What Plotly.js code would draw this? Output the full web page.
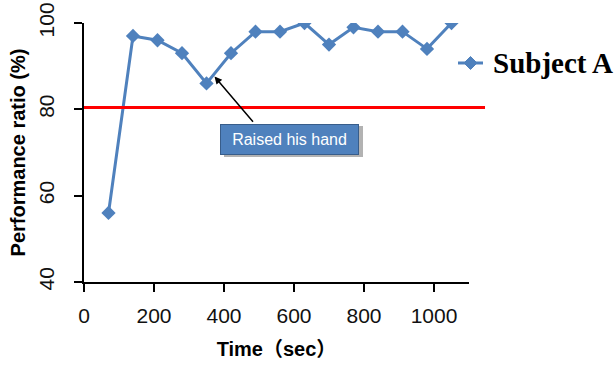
<!DOCTYPE html>
<html><head><meta charset="utf-8">
<script src="https://cdn.plot.ly/plotly-3.0.1.min.js"></script>
<style>html,body{margin:0;padding:0;background:#fff}#c{width:616px;height:366px}</style>
</head><body><div id="c"></div>
<script>
const timeSec = [70,140,210,280,350,420,490,560,630,700,770,840,910,980,1050];
const perfRatio = [56,97,96,93,86,93,98,98,100,95,99,98,98,94,100];
const seriesName = "Subject A";
const thresholdValue = 80.4;
const xTicks = [0,200,400,600,800,1000];
const yTicks = [40,60,80,100];
const noteText = "Raised his hand";
const noteIndex = 4;

const blue = "#4F81BD";
const trace = {
  x: timeSec, y: perfRatio, name: seriesName, type: "scatter", mode: "lines+markers",
  line: {color: blue, width: 3},
  marker: {symbol: "diamond", size: 11, color: blue},
  showlegend: false
};
const legY = 0.8456;
const layout = {
  width: 616, height: 366,
  margin: {l: 84, r: 147, t: 23, b: 84},
  paper_bgcolor: "#fff", plot_bgcolor: "#fff",
  showlegend: false,
  xaxis: {range: [0,1100], tickvals: xTicks, ticktext: xTicks.map(String), showgrid: false, zeroline: false,
    showline: true, linecolor: "#000", linewidth: 2, ticks: "outside", ticklen: 8, tickwidth: 2, tickcolor: "#000",
    tickfont: {family: "Liberation Sans", size: 21, color: "#111"}, ticklabelstandoff: 6,
    title: {text: "Time（sec）", standoff: 16, font: {family: "Liberation Sans, Noto Sans CJK JP", size: 20, color: "#000", weight: "bold"}}},
  yaxis: {range: [40,100], tickvals: yTicks, ticktext: yTicks.map(String), showgrid: false, zeroline: false,
    showline: true, linecolor: "#000", linewidth: 2, ticks: "outside", ticklen: 8, tickwidth: 2, tickcolor: "#000",
    tickangle: -90,
    tickfont: {family: "Liberation Sans", size: 21, color: "#111"}, ticklabelstandoff: 12,
    title: {text: "Performance ratio (%)", standoff: 4, font: {family: "Liberation Sans", size: 20, color: "#000", weight: "bold"}}},
  shapes: [
    {type: "line", xref: "paper", yref: "y", x0: 0, x1: 1.0416, y0: thresholdValue, y1: thresholdValue,
     line: {color: "#FF0000", width: 3}},
    {type: "rect", xref: "paper", yref: "paper", x0: 0.3636, x1: 0.7247, y0: 0.4826, y1: 0.6023,
     fillcolor: "rgba(0,0,0,0.3)", line: {width: 0}, layer: "above"},
    {type: "line", xref: "paper", yref: "paper", x0: 0.9714, x1: 1.0364, y0: legY, y1: legY,
     line: {color: blue, width: 3}},
    {type: "path", xref: "paper", yref: "paper", xsizemode: "pixel", ysizemode: "pixel",
     xanchor: 1.0039, yanchor: legY, path: "M0,-6.5 L6.5,0 L0,6.5 L-6.5,0 Z",
     fillcolor: blue, line: {color: blue, width: 1}}
  ],
  annotations: [
    {x: timeSec[noteIndex], y: perfRatio[noteIndex], xref: "x", yref: "y", text: " ", showarrow: true,
     font: {size: 1}, ax: 40, ay: 47, xshift: 8, yshift: 7, arrowhead: 2, arrowsize: 1, arrowwidth: 1.5, arrowcolor: "#000", standoff: 0},
    {x: 0.5338, y: 0.5502, xref: "paper", yref: "paper", text: noteText, showarrow: false,
     width: 137, height: 29, bgcolor: blue, bordercolor: "#385D8A", borderwidth: 1, borderpad: 0,
     font: {family: "Liberation Sans", size: 16, color: "#fff"}},
    {x: 1.0597, y: legY, xref: "paper", yref: "paper", xanchor: "left", yanchor: "middle", text: seriesName,
     showarrow: false, borderpad: 0,
     font: {family: "Liberation Serif", size: 29, color: "#000", weight: "bold"}}
  ]
};
Plotly.newPlot("c", [trace], layout, {displayModeBar: false, staticPlot: true});
</script></body></html>
